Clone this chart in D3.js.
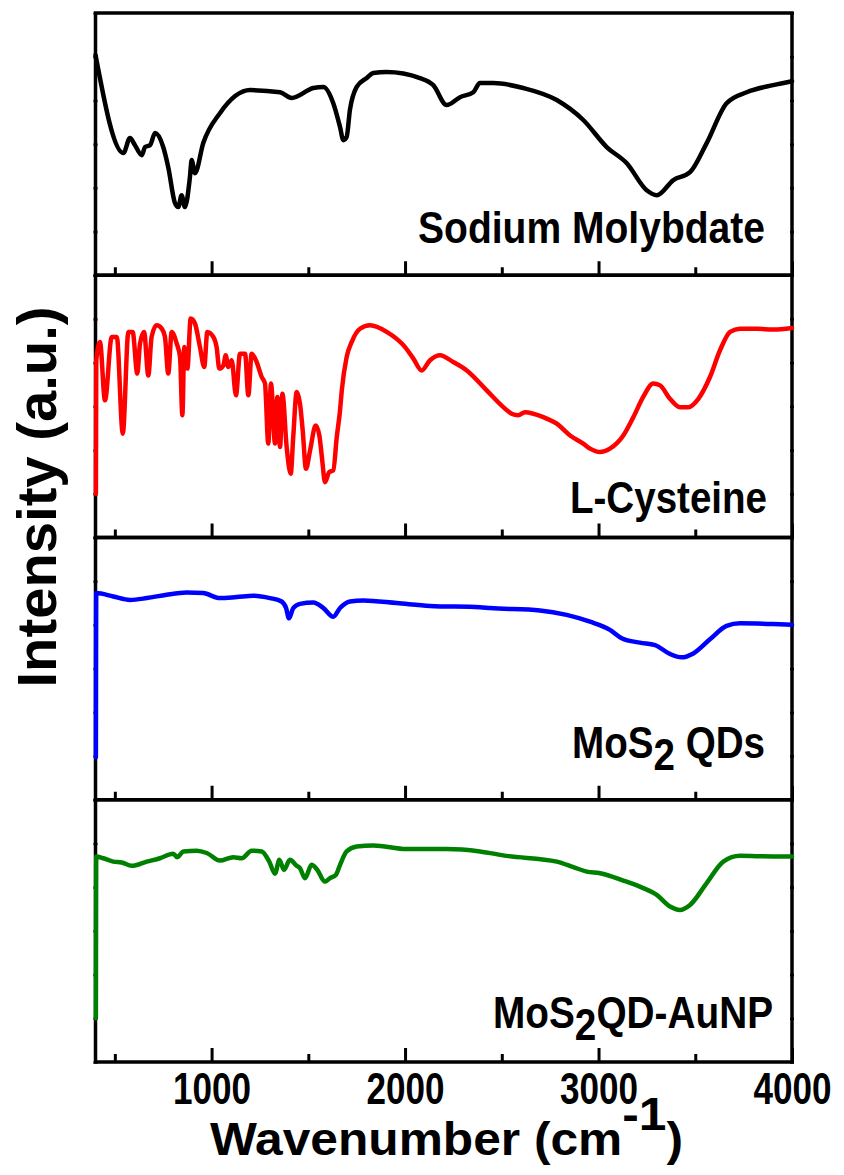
<!DOCTYPE html>
<html>
<head>
<meta charset="utf-8">
<script src="https://cdn.jsdelivr.net/npm/d3@7"></script>
<style>
  html, body { margin: 0; padding: 0; background: #fff; }
  svg { display: block; }
  text { font-family: "Liberation Sans", Arial, sans-serif; font-weight: bold; fill: #000; }
</style>
</head>
<body>
<svg id="chart" width="844" height="1175"></svg>
<script>
// ---------- data (wavenumber in cm^-1, intensity in a.u., each panel 0-100) ----------
const sodiumWn  = [400,544,578,604,639,656,682,708,750,776,811,828,845,862,888,897,914,957,1043,1199,1354,1414,1526,1578,1629,1664,1681,1698,1715,1750,1802,1836,1905,2077,2146,2215,2284,2353,2387,2456,2611,2784,2921,3042,3146,3249,3301,3387,3473,3559,3662,3766,3903,4000];
const sodiumVal = [84.0,46.6,52.3,49.6,45.8,48.9,49.6,54.2,48.9,41.2,27.5,26.0,30.5,26.0,37.4,43.9,38.9,50.4,61.8,70.6,69.8,67.6,71.4,71.8,65.6,56.5,51.5,52.7,63.0,71.8,75.2,77.1,77.5,75.2,72.5,64.9,67.9,69.8,73.3,73.3,71.4,66.8,59.2,48.9,42.7,32.4,30.5,36.3,39.3,50.4,65.6,69.8,72.5,74.0];

const cysteineWn  = [402,404,423,449,484,510,541,570,592,616,630,651,673,690,716,742,759,776,794,820,837,849,859,875,892,914,940,962,978,1009,1026,1040,1061,1073,1086,1104,1126,1147,1173,1190,1207,1233,1259,1276,1293,1307,1328,1340,1354,1366,1388,1409,1422,1440,1457,1471,1488,1509,1538,1557,1572,1586,1608,1629,1647,1664,1673,1698,1724,1767,1819,1905,2000,2043,2086,2129,2181,2249,2319,2422,2508,2551,2585,2620,2715,2784,2853,2921,2956,3008,3059,3128,3180,3231,3283,3318,3369,3421,3464,3516,3576,3628,3680,3731,3817,3903,4000];
const cysteineVal = [16.7,67.6,74.5,52.3,76.5,76.5,39.6,78.4,78.4,62.5,73.9,78.4,61.8,76.5,80.9,79.7,76.5,62.5,78.4,73.9,68.8,46.6,72.6,64.4,83.5,81.6,72.6,65.0,78.4,76.5,72.6,64.4,65.6,69.5,65.0,67.6,54.2,70.1,70.1,54.2,70.1,66.9,61.2,58.7,35.8,58.7,35.8,53.6,34.5,54.8,34.5,24.3,38.3,55.5,51.0,40.8,26.2,33.2,42.7,38.9,29.4,21.1,24.9,25.6,38.3,48.5,56.1,68.8,74.5,79.6,80.9,78.4,72.6,68.2,63.7,67.6,69.5,66.9,63.7,56.1,49.7,47.2,46.6,47.8,45.9,43.4,38.9,35.8,33.9,32.6,33.9,38.9,45.9,53.6,58.7,58.0,52.9,49.7,49.7,52.9,61.2,71.4,78.4,79.6,79.6,79.3,79.9];

const mos2Wn  = [402,404,492,578,665,768,871,957,1043,1130,1216,1302,1362,1385,1400,1422,1457,1526,1578,1629,1664,1715,1784,1957,2129,2387,2439,2697,2835,2956,3059,3120,3214,3292,3369,3429,3490,3576,3662,3731,3903,4000];
const mos2Val = [16.2,78.8,77.5,76.2,76.9,78.2,79.0,78.8,76.9,77.3,77.8,76.9,75.6,73.1,69.2,73.1,74.7,75.2,73.1,69.8,73.1,75.6,76.0,75.0,73.9,73.4,73.1,72.2,70.5,67.9,64.8,61.6,59.9,59.0,55.6,54.3,55.8,61.2,66.3,67.3,67.0,66.7];

const auWn  = [402,404,440,492,535,587,665,733,802,823,854,923,975,1043,1112,1156,1207,1259,1298,1328,1350,1374,1405,1440,1457,1483,1517,1546,1586,1612,1643,1664,1698,1750,1836,2008,2215,2387,2525,2784,2870,2939,3008,3128,3231,3301,3369,3421,3473,3559,3645,3731,3903,4000];
const auVal = [16.7,78.4,77.7,76.4,76.1,74.8,76.4,77.7,79.4,78.1,80.3,80.6,79.7,76.8,78.1,77.7,80.6,80.3,76.4,71.8,77.1,73.3,77.1,74.8,73.9,70.1,75.2,73.3,68.8,70.1,71.4,75.2,80.3,82.2,82.6,81.2,81.2,80.3,78.6,76.4,74.3,72.6,72.0,69.2,66.3,63.7,59.3,58.0,59.9,68.2,76.4,78.6,78.4,78.4];

const seriesColors = ["#000000", "#ff0000", "#0000ff", "#008000"];
const xMajorTicks = [1000, 2000, 3000, 4000];
const xMinorTicks = [500, 1500, 2500, 3500];
const xTickLabels = ["1000", "2000", "3000", "4000"];
const yTicks = [0, 100/6, 200/6, 300/6, 400/6, 500/6, 100];
const xTitle = "Wavenumber (cm";
const xTitleSup = "-1";
const yTitle = "Intensity (a.u.)";

// ---------- layout ----------
const svg = d3.select("#chart");
const L = 95.5, R = 792, TOP = 13, BOTTOM = 1062;
const nPanels = 4;
const ph = (BOTTOM - TOP) / nPanels;

const x = d3.scaleLinear().domain([400, 4000]).range([L, R]);

const panels = [
  { wn: sodiumWn,   val: sodiumVal,   color: seriesColors[0], label: [{t: "Sodium Molybdate"}], lx: 765, ly: 243, lw: 347 },
  { wn: cysteineWn, val: cysteineVal, color: seriesColors[1], label: [{t: "L-Cysteine"}], lx: 767, ly: 513, lw: 197 },
  { wn: mos2Wn,     val: mos2Val,     color: seriesColors[2], label: [{t: "MoS"}, {t: "2", dy: 12}, {t: " QDs", dy: -12}], lx: 765, ly: 758, lw: 193 },
  { wn: auWn,       val: auVal,       color: seriesColors[3], label: [{t: "MoS"}, {t: "2", dy: 12}, {t: "QD-AuNP", dy: -12}], lx: 773, ly: 1028, lw: 280 }
];

panels.forEach((p, i) => {
  const top = TOP + i * ph, bot = top + ph;
  const y = d3.scaleLinear().domain([0, 100]).range([bot, top]);
  const g = svg.append("g");

  // frame
  g.append("rect")
    .attr("x", L).attr("y", top).attr("width", R - L).attr("height", ph)
    .attr("fill", "none").attr("stroke", "#000").attr("stroke-width", 3.5);

  // bottom ticks (inward)
  const major = g.append("g").attr("transform", `translate(0,${bot})`)
    .call(d3.axisBottom(x).tickValues(xMajorTicks).tickSizeInner(-14).tickSizeOuter(0).tickPadding(11)
      .tickFormat(i === nPanels - 1 ? ((d, k) => xTickLabels[k]) : ""));
  const minor = g.append("g").attr("transform", `translate(0,${bot})`)
    .call(d3.axisBottom(x).tickValues(xMinorTicks).tickSizeInner(-8).tickSizeOuter(0).tickFormat(""));
  [major, minor].forEach(a => {
    a.select(".domain").remove();
    a.selectAll(".tick line").attr("stroke", "#000").attr("stroke-width", 3);
  });
  major.selectAll(".tick text")
    .attr("font-size", 44)
    .attr("font-family", "'Liberation Sans', Arial, sans-serif")
    .attr("font-weight", "bold")
    .attr("fill", "#000")
    .attr("textLength", 78)
    .attr("lengthAdjust", "spacingAndGlyphs");

  // left / right small ticks
  const la = g.append("g").attr("transform", `translate(${L + 2},0)`)
    .call(d3.axisLeft(y).tickValues(yTicks).tickSize(4).tickFormat(""));
  const ra = g.append("g").attr("transform", `translate(${R - 2},0)`)
    .call(d3.axisRight(y).tickValues(yTicks).tickSize(4).tickFormat(""));
  [la, ra].forEach(a => {
    a.select(".domain").remove();
    a.selectAll(".tick line").attr("stroke", "#000").attr("stroke-width", 2.5);
  });

  // curve
  const data = p.wn.map((w, k) => [w, p.val[k]]);
  const line = d3.line().x(d => x(d[0])).y(d => y(d[1])).curve(d3.curveMonotoneX);
  g.append("path").datum(data)
    .attr("d", line)
    .attr("fill", "none")
    .attr("stroke", p.color)
    .attr("stroke-width", 4.5)
    .attr("stroke-linejoin", "round")
    .attr("stroke-linecap", "round");

  // label
  const t = g.append("text")
    .attr("x", p.lx - p.lw).attr("y", p.ly)
    .attr("font-size", 44)
    .attr("textLength", p.lw)
    .attr("lengthAdjust", "spacingAndGlyphs");
  p.label.forEach(s => {
    const ts = t.append("tspan").text(s.t);
    if (s.dy) ts.attr("dy", s.dy);
  });
});

// axis titles
const xt = svg.append("text")
  .attr("x", 210).attr("y", 1155)
  .attr("font-size", 46)
  .attr("textLength", 473)
  .attr("lengthAdjust", "spacingAndGlyphs");
xt.append("tspan").text(xTitle);
xt.append("tspan").attr("dy", -25).text(xTitleSup);
xt.append("tspan").attr("dy", 25).text(")");

svg.append("text")
  .attr("transform", "translate(56,497) rotate(-90)")
  .attr("text-anchor", "middle")
  .attr("font-size", 55)
  .attr("textLength", 381)
  .attr("lengthAdjust", "spacingAndGlyphs")
  .text(yTitle);
</script>
</body>
</html>
